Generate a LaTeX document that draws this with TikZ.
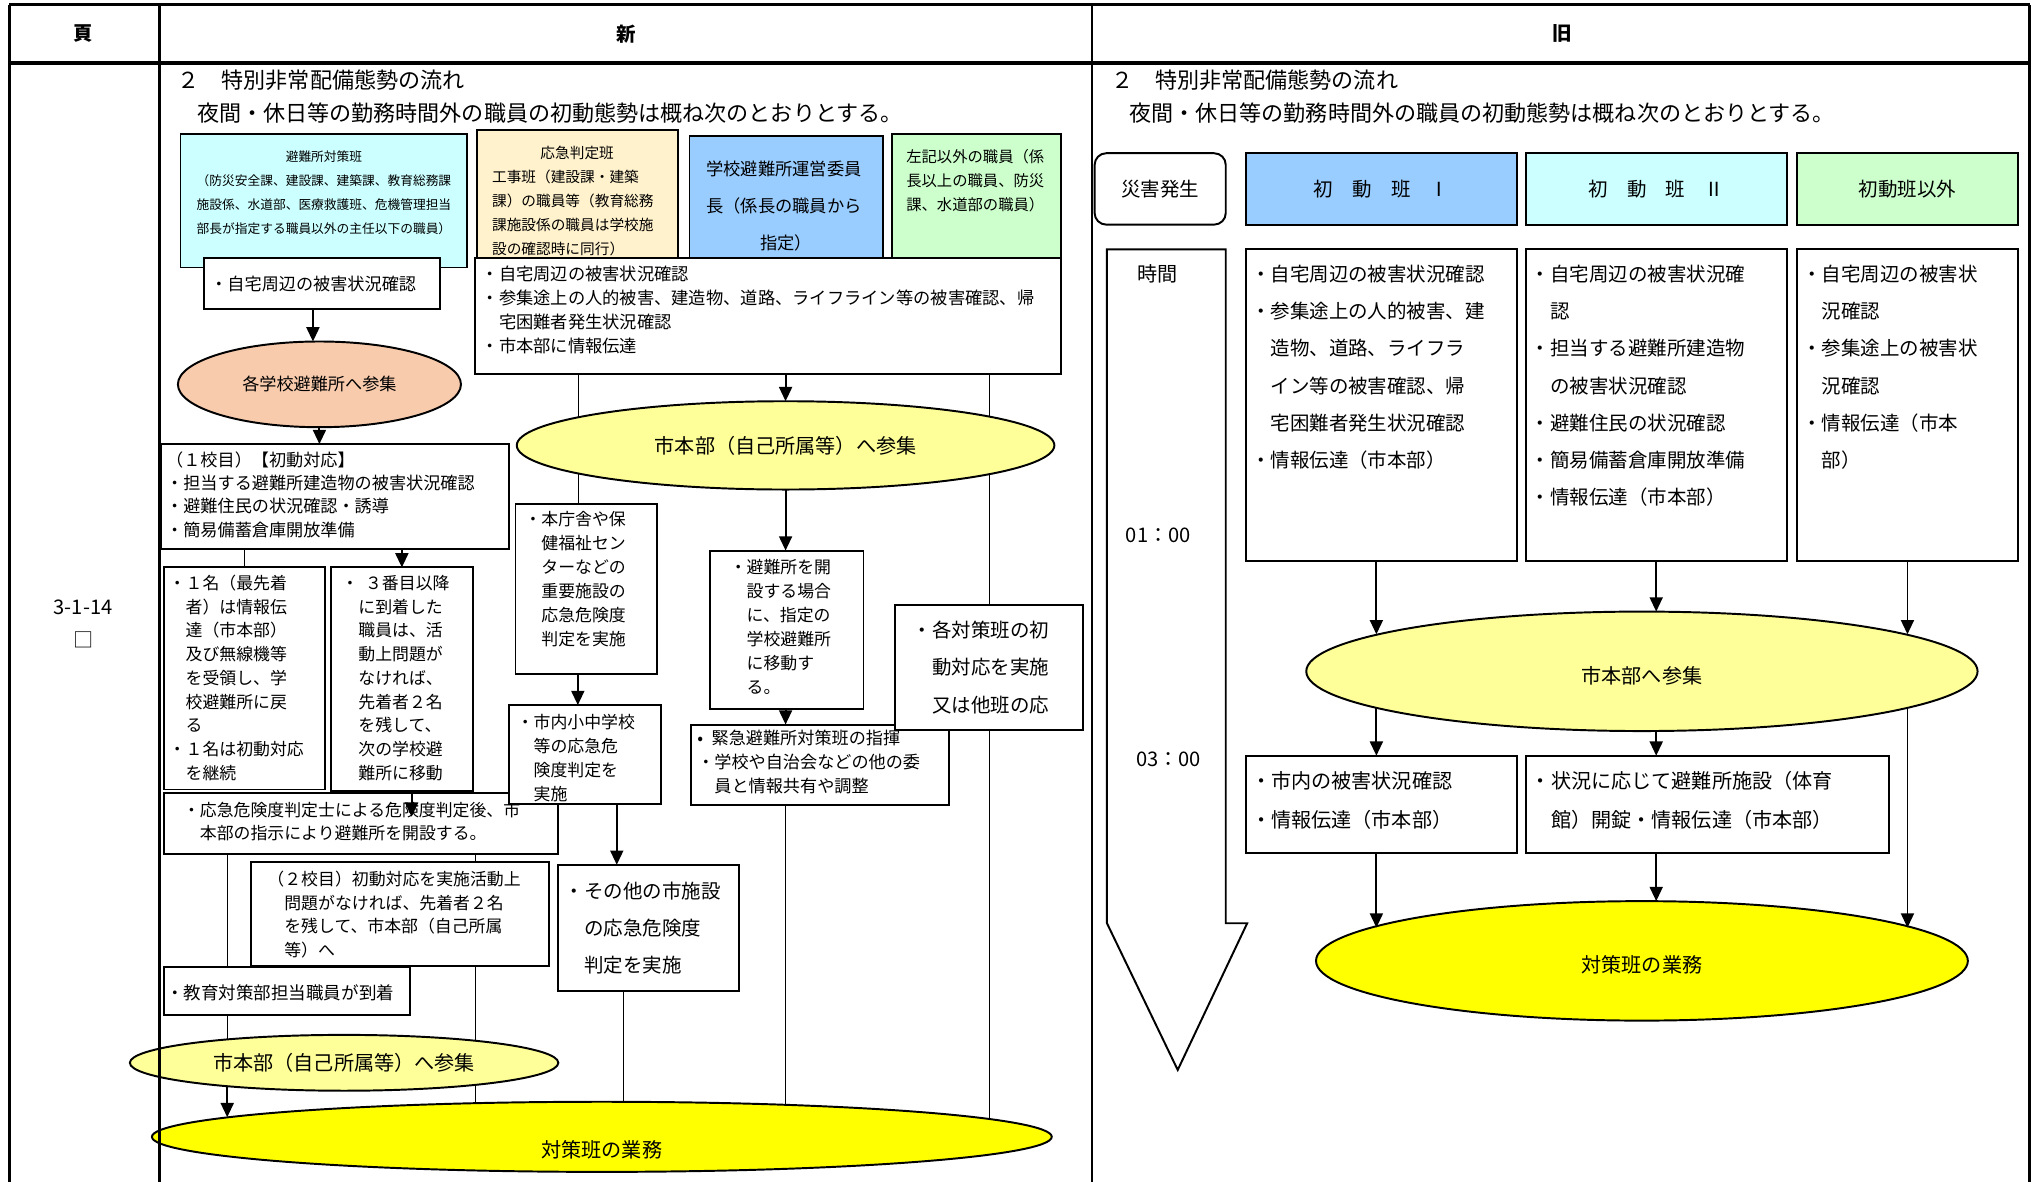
\documentclass[tikz,border=0pt]{standalone}
\usepackage{fontspec}
\setmainfont{Noto Sans CJK JP}
\usepackage{tikz}
\usetikzlibrary{arrows.meta,backgrounds,shapes.geometric}

\definecolor{paleCyan}{HTML}{CCFFFF}
\definecolor{paleCream}{HTML}{FFF2CC}
\definecolor{skyBlue}{HTML}{99CCFF}
\definecolor{paleGreen}{HTML}{CCFFCC}
\definecolor{salmonPink}{HTML}{F8CBAD}
\definecolor{softYellow}{HTML}{FFFF99}
\definecolor{fullYellow}{HTML}{FFFF00}

\begin{document}
\begin{tikzpicture}[x=1pt,y=-1pt,>={Triangle[length=11pt,width=10pt]},line width=1.5pt,
  box/.style={draw,fill=white,anchor=north west,align=left,inner ysep=0pt,outer sep=0pt},
  oval/.style={draw,ellipse,inner sep=0pt,outer sep=0pt,font=\fontsize{15.5}{18}\selectfont},
  team head/.style={draw,inner sep=0pt,minimum height=55pt,font=\fontsize{15}{18}\selectfont},
  heading/.style={anchor=west,inner sep=0pt,font=\fontsize{17}{20}\selectfont}]
  \useasboundingbox (0,0) rectangle (1568,910);

  % header row and page column
  \node[font=\fontsize{15}{18}\selectfont\bfseries] (pageHead) at (64,26) {頁};
  \node[font=\fontsize{15}{18}\selectfont\bfseries] (newHead) at (482,26) {新};
  \node[font=\fontsize{15}{18}\selectfont\bfseries] (oldHead) at (1203,26) {旧};
  \node[font=\fontsize{15.5}{18}\selectfont] (pageNo) at (64,468) {3-1-14};
  \node[font=\fontsize{15.5}{18}\selectfont] (pageMark) at (64,493) {□};

  % new version
  \node[heading] (newTitle) at (136,62) {２　特別非常配備態勢の流れ};
  \node[heading] (newLead) at (151,87) {夜間・休日等の勤務時間外の職員の初動態勢は概ね次のとおりとする。};

  \node[box,fill=paleCyan,align=center,inner xsep=4pt,text width=213pt,text height=21.6pt,text depth=81.4pt,
    font=\fontsize{9.8}{18.3}\selectfont] (shelterTeam) at (139,103)
    {避難所対策班\\（防災安全課、建設課、建築課、教育総務課\\施設係、水道部、医療救護班、危機管理担当\\部長が指定する職員以外の主任以下の職員）};
  \node[box,inner xsep=5pt,text width=172pt,text height=24.9pt,text depth=14.1pt,
    font=\fontsize{13.2}{18.5}\selectfont] (homeCheckA) at (157,199) {・自宅周辺の被害状況確認};
  \node[box,fill=paleCream,inner xsep=12pt,text width=131pt,text height=22.2pt,text depth=76.8pt,
    font=\fontsize{11.3}{18.5}\selectfont] (judgeTeam) at (367,100)
    {\makebox[\linewidth]{応急判定班}\\工事班（建設課・建築\\課）の職員等（教育総務\\課施設係の職員は学校施\\設の確認時に同行）};
  \node[box,fill=skyBlue,inner xsep=13pt,text width=123pt,text height=29.9pt,text depth=64.1pt,
    font=\fontsize{13.3}{28.5}\selectfont] (schoolChair) at (531,105)
    {学校避難所運営委員\\長（係長の職員から\\\makebox[\linewidth]{指定）}};
  \node[box,fill=paleGreen,inner xsep=11pt,text width=108pt,text height=22.4pt,text depth=73.6pt,
    font=\fontsize{11.8}{18.5}\selectfont] (otherStaff) at (687,103)
    {左記以外の職員（係\\長以上の職員、防災\\課、水道部の職員）};
  \node[box,inner xsep=5pt,text width=441pt,text height=16.9pt,text depth=72.1pt,
    font=\fontsize{13.3}{18.5}\selectfont] (homeCheckB) at (366,199)
    {・自宅周辺の被害状況確認\\・参集途上の人的被害、建造物、道路、ライフライン等の被害確認、帰\\　宅困難者発生状況確認\\・市本部に情報伝達};

  \node[oval,fill=salmonPink,minimum width=218pt,minimum height=66pt,font=\fontsize{13.2}{16}\selectfont]
    (schoolGather) at (246,296) {各学校避難所へ参集};
  \node[oval,fill=softYellow,minimum width=414pt,minimum height=68pt] (hqGatherA) at (605,343) {市本部（自己所属等）へ参集};

  \node[box,inner xsep=7pt,text width=95pt,text height=16.8pt,text depth=114.2pt,
    font=\fontsize{13}{18.5}\selectfont] (mainBldg) at (397,388)
    {・本庁舎や保\\　健福祉セン\\　ターなどの\\　重要施設の\\　応急危険度\\　判定を実施};
  \node[box,inner xsep=15pt,text width=88pt,text height=17.3pt,text depth=104.7pt,
    font=\fontsize{13}{18.5}\selectfont] (openShelter) at (547,424)
    {・避難所を開\\　設する場合\\　に、指定の\\　学校避難所\\　に移動す\\　る。};

  \node[box,inner xsep=4pt,text width=260pt,text height=17pt,text depth=64pt,
    font=\fontsize{13.2}{18}\selectfont] (firstSchool) at (124,342)
    {（１校目）【初動対応】\\・担当する避難所建造物の被害状況確認\\・避難住民の状況確認・誘導\\・簡易備蓄倉庫開放準備};
  \node[box,inner xsep=4pt,text width=116pt,text height=16.8pt,text depth=154.2pt,
    font=\fontsize{13}{18.3}\selectfont] (firstArrive) at (126,437)
    {・１名（最先着\\　者）は情報伝\\　達（市本部）\\　及び無線機等\\　を受領し、学\\　校避難所に戻\\　る\\・１名は初動対応\\　を継続};
  \node[box,inner xsep=8pt,text width=93pt,text height=16.8pt,text depth=155.2pt,
    font=\fontsize{13}{18.3}\selectfont] (thirdArrive) at (255,437)
    {・\hspace{0.4em}３番目以降\\　に到着した\\　職員は、活\\　動上問題が\\　なければ、\\　先着者２名\\　を残して、\\　次の学校避\\　難所に移動};
  \node[box,inner xsep=15pt,text width=274pt,text height=17.8pt,text depth=29.2pt,
    font=\fontsize{13}{18}\selectfont] (judgeAfter) at (126,611)
    {・応急危険度判定士による危険度判定後、市\\　本部の指示により避難所を開設する。};
  \node[box,inner xsep=6pt,text width=105pt,text height=17.8pt,text depth=58.2pt,
    font=\fontsize{13}{18.5}\selectfont] (schoolJudge) at (392,543)
    {・市内小中学校\\　等の応急危\\　険度判定を\\　実施};
  \node[box,inner xsep=5pt,text width=129pt,text height=25.6pt,text depth=71.4pt,
    font=\fontsize{15}{28.5}\selectfont] (otherFacil) at (430,666)
    {・その他の市施設\\　の応急危険度\\　判定を実施};
  \node[box,inner xsep=5pt,text width=189pt,text height=15pt,text depth=47pt,
    font=\fontsize{13.2}{18.7}\selectfont] (urgentCmd) at (532,558)
    {•\hspace{0.5em}緊急避難所対策班の指揮\\・学校や自治会などの他の委\\　員と情報共有や調整};
  \node[box,inner xsep=14pt,text width=117pt,text height=24.6pt,text depth=71.4pt,
    font=\fontsize{15}{29}\selectfont] (eachTeam) at (689,466)
    {・各対策班の初\\　動対応を実施\\　又は他班の応};
  \node[box,inner xsep=13pt,text width=204pt,text height=18.3pt,text depth=61.7pt,
    font=\fontsize{13}{18}\selectfont] (secondSchool) at (193,664)
    {（２校目）初動対応を実施活動上\\　問題がなければ、先着者２名\\　を残して、市本部（自己所属\\　等）へ};
  \node[box,inner xsep=2pt,text width=186pt,text height=25pt,text depth=12pt,
    font=\fontsize{13.5}{18}\selectfont] (eduStaff) at (126,745) {・教育対策部担当職員が到着};

  \node[oval,fill=softYellow,minimum width=330pt,minimum height=43pt] (hqGatherB) at (265,818.5) {市本部（自己所属等）へ参集};
  \node[oval,fill=fullYellow,minimum width=693pt,minimum height=54pt,text height=32pt,text depth=0pt]
    (taskFinal) at (463.5,875.5) {対策班の業務};

  % old version
  \node[heading] (oldTitle) at (855,62) {２　特別非常配備態勢の流れ};
  \node[heading] (oldLead) at (869,87) {夜間・休日等の勤務時間外の職員の初動態勢は概ね次のとおりとする。};

  \node[draw,rounded corners=9pt,minimum width=101pt,minimum height=55pt,inner sep=0pt,
    font=\fontsize{15}{18}\selectfont] (disaster) at (893.5,145.5) {災害発生};
  \node[team head,fill=skyBlue,minimum width=208.5pt] (teamOne) at (1063.75,145.5) {初　動　班　Ⅰ};
  \node[team head,fill=paleCyan,minimum width=201pt] (teamTwo) at (1275.5,145.5) {初　動　班　Ⅱ};
  \node[team head,fill=paleGreen,minimum width=170pt] (teamElse) at (1469,145.5) {初動班以外};

  \draw (852.5,192) -- (944,192) -- (944,711) -- (960.5,711) -- (907,824) -- (852.5,711) -- cycle;
  \node[font=\fontsize{15.5}{18}\selectfont] (timeHead) at (891.5,211) {時間};
  \node[font=\fontsize{15.5}{18}\selectfont] (timeOne) at (892,412) {01：00};
  \node[font=\fontsize{15.5}{18}\selectfont] (timeThree) at (900,585) {03：00};

  \node[box,inner xsep=4pt,text width=200.5pt,text height=24.6pt,text depth=215.4pt,
    font=\fontsize{15}{28.7}\selectfont] (dutyOne) at (959.5,192)
    {・自宅周辺の被害状況確認\\・参集途上の人的被害、建\\　造物、道路、ライフラ\\　イン等の被害確認、帰\\　宅困難者発生状況確認\\・情報伝達（市本部）};
  \node[box,inner xsep=4pt,text width=193pt,text height=24.6pt,text depth=215.4pt,
    font=\fontsize{15}{28.7}\selectfont] (dutyTwo) at (1175,192)
    {・自宅周辺の被害状況確\\　認\\・担当する避難所建造物\\　の被害状況確認\\・避難住民の状況確認\\・簡易備蓄倉庫開放準備\\・情報伝達（市本部）};
  \node[box,inner xsep=4pt,text width=162pt,text height=24.6pt,text depth=215.4pt,
    font=\fontsize{15}{28.7}\selectfont] (dutyElse) at (1384,192)
    {・自宅周辺の被害状\\　況確認\\・参集途上の被害状\\　況確認\\・情報伝達（市本\\　部）};

  \node[oval,fill=softYellow,minimum width=517pt,minimum height=92pt,text height=19.4pt,text depth=0pt]
    (hqOld) at (1264.5,517) {市本部へ参集};
  \node[box,inner xsep=4pt,text width=200.5pt,text height=25.2pt,text depth=49.8pt,
    font=\fontsize{15.5}{30}\selectfont] (cityCheck) at (959.5,582)
    {・市内の被害状況確認\\・情報伝達（市本部）};
  \node[box,inner xsep=4pt,text width=272pt,text height=25.2pt,text depth=49.8pt,
    font=\fontsize{15.5}{30}\selectfont] (facilityOpen) at (1175,582)
    {・状況に応じて避難所施設（体育\\　館）開錠・情報伝達（市本部）};
  \node[oval,fill=fullYellow,minimum width=502pt,minimum height=92pt,text height=17.4pt,text depth=0pt]
    (taskOld) at (1264.5,740) {対策班の業務};

  % rails
  \coordinate (railLeft) at (175,0);
  \coordinate (railHome) at (241,0);
  \coordinate (railSecond) at (366,0);
  \coordinate (railMain) at (445,0);
  \coordinate (railSmall) at (475,0);
  \coordinate (railOther) at (480,0);
  \coordinate (judgeTip) at (317,629);
  \coordinate (railOld) at (1060,0);
  \coordinate (railRest) at (1469,0);

  \begin{scope}[on background layer]
    \fill[white] (0,0) rectangle (1568,910);
    \draw (railMain |- homeCheckB.south) -- (railMain |- mainBldg.north);
    \draw (eachTeam.north |- homeCheckB.south) -- (eachTeam.north);
    \draw (eachTeam.south) -- (eachTeam.south |- taskFinal.center);
    \draw (hqGatherA.south |- urgentCmd.south) -- (hqGatherA.south |- taskFinal.center);
    \draw (railOther |- otherFacil.south) -- (railOther |- taskFinal.center);
    \draw (railSecond |- judgeAfter.south) -- (railSecond |- taskFinal.center);
    \draw (railLeft |- judgeAfter.south) -- (railLeft |- hqGatherB.center);
    \draw (firstArrive.north |- firstSchool.south) -- (firstArrive.north);
  \end{scope}

  \draw[->] (railHome |- homeCheckA.south) -- (railHome |- schoolGather.north);
  \draw[->] (schoolGather.south) -- (schoolGather.south |- firstSchool.north);
  \draw[->] (hqGatherA.north |- homeCheckB.south) -- (hqGatherA.north);
  \draw[->] (hqGatherA.south) -- (hqGatherA.south |- openShelter.north);
  \draw[->] (hqGatherA.south |- openShelter.south) -- (hqGatherA.south |- urgentCmd.north);
  \draw[->] (railMain |- mainBldg.south) -- (railMain |- schoolJudge.north);
  \draw[->] (railSmall |- schoolJudge.south) -- (railSmall |- otherFacil.north);
  \draw[->] (thirdArrive.north |- firstSchool.south) -- (thirdArrive.north);
  \draw[->] (judgeTip |- thirdArrive.south) -- (judgeTip);
  \draw[->] (railLeft |- hqGatherB.-169) -- (railLeft |- taskFinal.177);

  \draw[->] (railOld |- dutyOne.south) -- (railOld |- hqOld.172);
  \draw[->] (dutyTwo.south) -- (dutyTwo.south |- hqOld.north);
  \draw[->] (railRest |- dutyElse.south) -- (railRest |- hqOld.8);
  \draw[->] (railOld |- hqOld.-172) -- (railOld |- cityCheck.north);
  \draw[->] (dutyTwo.south |- hqOld.south) -- (dutyTwo.south |- facilityOpen.north);
  \draw[->] (railRest |- hqOld.-8) -- (railRest |- taskOld.7);
  \draw[->] (railOld |- cityCheck.south) -- (railOld |- taskOld.173);
  \draw[->] (dutyTwo.south |- facilityOpen.south) -- (dutyTwo.south |- taskOld.north);

  % table frame
  \draw[line width=2.4pt] (7,3.8) -- (1563,3.8);
  \draw[line width=3pt] (7,48.5) -- (1563,48.5);
  \draw[line width=2.2pt] (7,3.8) -- (7,910) (123,3.8) -- (123,910) (841,3.8) -- (841,910) (1563,3.8) -- (1563,910);
\end{tikzpicture}
\end{document}
